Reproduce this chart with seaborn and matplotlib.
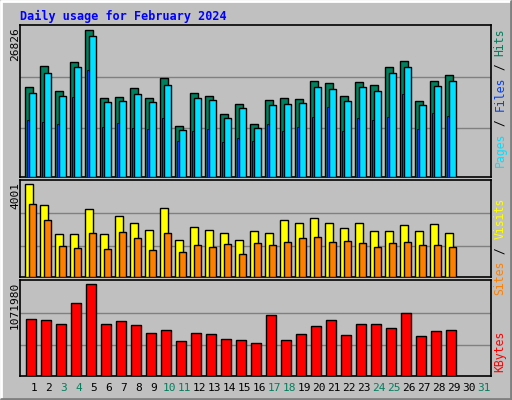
import matplotlib
matplotlib.use("Agg")
import matplotlib.pyplot as plt
import seaborn as sns
import numpy as np

sns.set_style("white")
plt.rcParams['font.family'] = ['DejaVu Sans Mono']

days = list(range(1, 32))
data_days = np.arange(1, 30)
hits = [16425,20258,15695,20988,26826,14418,14600,16243,14418,18068,9308,15330,14783,11498,13323,
        9673,14053,14418,14235,17520,17155,14783,17338,16790,20075,21170,13870,17520,18615]
files = [15330,18980,14783,20075,25733,13688,13870,15148,13688,16790,8578,14418,14053,10768,12593,
         8943,13140,13323,13505,16425,16060,13870,16425,15695,18980,20075,13140,16608,17520]
pages = [10403,10038,9673,14600,19528,9125,9855,8943,8760,10768,6570,8395,8760,6388,7118,
         6570,9673,8395,9125,10950,12775,8395,10768,10403,10950,15148,8760,11680,11133]
visits = [4001,3088,1870,1870,2914,1870,2653,2348,2044,2957,1609,2174,2044,1913,1609,
          2000,1913,2479,2348,2566,2348,2131,2348,2000,2000,2261,2000,2305,1913]
sites = [3131,2479,1348,1261,1913,1218,1957,1696,1174,1913,1087,1392,1305,1435,1000,
         1479,1392,1522,1696,1740,1522,1566,1479,1305,1479,1522,1392,1392,1305]
kbytes = [671466,659686,612565,848167,1071980,612565,647906,600785,506544,541885,412304,506544,494764,435864,424084,
          388743,718586,424084,494764,589005,659686,482984,612565,612565,565445,742146,471204,530105,541885]
weekend = [3, 4, 10, 11, 17, 18, 24, 25, 31]

C_HITS, C_FILES, C_PAGES = "#00805C", "#00E0FF", "#0040FF"
C_VIS, C_SITES, C_KB = "#FFFF00", "#FF8000", "#FF0000"
BG = "#C0C0C0"

W, H = 512, 400
fig = plt.figure(figsize=(5.12, 4.0), dpi=100)
fig.patch.set_facecolor(BG)

def axes_px(top, bottom):
    return fig.add_axes([20 / W, 1 - bottom / H, 471 / W, (bottom - top) / H])

xl = (1 - 14 / 15, 31 + 7 / 15)

def style(ax, ytop, maxlabel, top_px):
    ax.set_facecolor(BG)
    ax.set_xlim(*xl)
    ax.set_ylim(0, ytop)
    ax.set_xticks([]); ax.set_yticks([])
    for s in ax.spines.values():
        s.set_color("black"); s.set_linewidth(1.2)
    for f in (0.32, 0.66):
        ax.axhline(ytop * f, color="#808080", lw=1, zorder=0.5)
    fig.text(15 / W, 1 - (top_px + 2) / H, maxlabel, rotation=90,
             ha="center", va="top", fontsize=8, color="black")

def bars(ax, vals, l, r, color, lw=1):
    ax.bar(data_days + l, vals, width=r - l, align="edge", color=color,
           edgecolor="black", linewidth=lw, zorder=3)

def side_label(parts, top_px):
    y = top_px
    for txt, col in reversed(parts):
        fig.text(500 / W, 1 - y / H, txt, rotation=90,
                 ha="center", va="top", fontsize=8.3, color=col)
        y += len(txt) * 7.0

ax1 = axes_px(25, 177)
style(ax1, 26826 * 152 / 147, "26826", 25)
bars(ax1, hits, -0.6, -0.07, C_HITS)
bars(ax1, files, -0.31, 0.15, C_FILES)
bars(ax1, pages, -0.45, -0.33, C_PAGES, lw=0.6)
side_label([("Pages", C_FILES), (" / ", "black"), ("Files", C_PAGES),
            (" / ", "black"), ("Hits", C_HITS)], 28)

ax2 = axes_px(180, 277)
style(ax2, 4001 * 97 / 92.7, "4001", 180)
bars(ax2, visits, -0.58, -0.05, C_VIS)
bars(ax2, sites, -0.31, 0.15, C_SITES)
side_label([("Sites", C_SITES), (" / ", "black"), ("Visits", C_VIS)], 198)

ax3 = axes_px(280, 376)
style(ax3, 1071980 * 96 / 91.7, "1071980", 280)
bars(ax3, kbytes, -0.51, 0.15, C_KB)
side_label([("KBytes", C_KB)], 331)

for d in days:
    ax3.text(d, -12 / 96, str(d), transform=ax3.get_xaxis_transform(), ha="center",
             va="center", fontsize=8, color=C_HITS if d in weekend else "black")

fig.text(20 / W, 1 - 16 / H, "Daily usage for February 2024", ha="left", va="center",
         fontsize=8.5, fontweight="bold", color="#0000FF")

fig.add_artist(plt.Line2D([0.002, 0.002, 0.998], [0.002, 0.998, 0.998], transform=fig.transFigure, color="white", lw=2))
fig.add_artist(plt.Line2D([0.002, 0.998, 0.998], [0.002, 0.002, 0.998], transform=fig.transFigure, color="#808080", lw=2))

fig.savefig("out.png", dpi=100, facecolor=BG)
